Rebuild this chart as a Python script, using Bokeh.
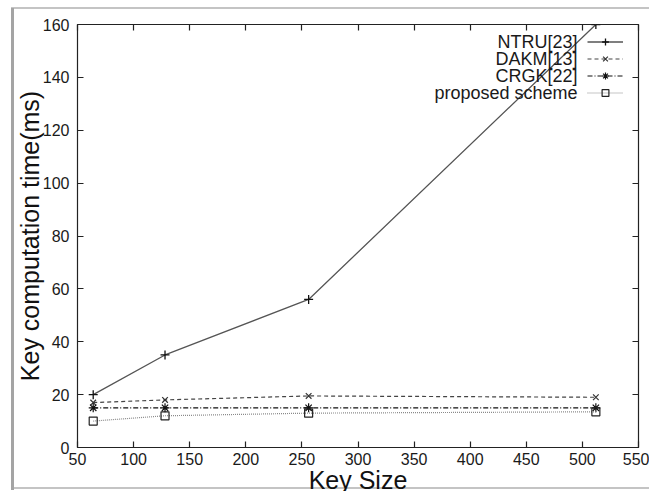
from bokeh.plotting import figure
from bokeh.models import Label, Legend, LegendItem, LinearAxis, FixedTicker, Range1d, Title
from bokeh.core.properties import value
from bokeh.embed import file_html
from bokeh.resources import INLINE

# ---- data ----
key_sizes = [64, 128, 256, 512]
ntru = [20, 35, 56, 160]
dakm = [17, 18, 19.5, 19]
crgk = [15, 15, 15, 15]
proposed = [10, 12, 13, 13.5]
series_names = ["NTRU[23]", "DAKM[13]", "CRGK[22]", "proposed scheme"]
x_ticks = [50, 100, 150, 200, 250, 300, 350, 400, 450, 500, 550]
y_ticks = [0, 20, 40, 60, 80, 100, 120, 140, 160]
x_title = "Key Size"
y_title = "Key computation time(ms)"

FONT = "Liberation Sans"

p = figure(width=649, height=491, output_backend="svg", toolbar_location=None,
           x_range=Range1d(50, 550), y_range=Range1d(0, 160),
           min_border_left=77, min_border_right=11, min_border_top=24, min_border_bottom=44,
           border_fill_color=None, background_fill_color="white")
p.grid.visible = False
p.outline_line_color = "#222222"
p.outline_line_width = 1.2

# page frame seen in the reference (grey bar at left, thin grey rules at top and bottom)
p.styles = {
    "background-image": "linear-gradient(#a4a4a4,#a4a4a4), linear-gradient(#c4c4c4,#c4c4c4), linear-gradient(#c4c4c4,#c4c4c4)",
    "background-size": "3px 482px, 100% 2px, 100% 2px",
    "background-position": "11px 8px, 11px 7px, 11px 487px",
    "background-repeat": "no-repeat",
}

def style_axis(ax, ticks, show_labels=True):
    ax.ticker = FixedTicker(ticks=ticks)
    ax.axis_line_color = None
    ax.major_tick_in = 6
    ax.major_tick_out = 0
    ax.major_tick_line_color = "#222222"
    ax.major_tick_line_width = 1.2
    ax.minor_tick_line_color = None
    ax.major_label_text_font = FONT
    if show_labels:
        ax.major_label_text_font_size = "16px"
        ax.major_label_text_color = "#1a1a1a"
    else:
        ax.major_label_text_font_size = "1px"
        ax.major_label_text_color = None
        ax.major_label_standoff = 0

style_axis(p.xaxis[0], x_ticks)
style_axis(p.yaxis[0], y_ticks)
p.xaxis[0].major_label_standoff = 5
p.yaxis[0].major_label_standoff = 8

p.yaxis[0].axis_label = y_title
p.yaxis[0].axis_label_text_font = FONT
p.yaxis[0].axis_label_text_font_size = "25px"
p.yaxis[0].axis_label_text_font_style = "normal"
p.yaxis[0].axis_label_text_color = "#111111"
p.yaxis[0].axis_label_standoff = -4

# x-axis title as a bottom title so it can sit a little lower, as in the reference
p.add_layout(Title(text=x_title, align="center", text_font=FONT, text_font_size="25px",
                   text_font_style="normal", text_color="#111111", standoff=-8,
                   vertical_align="bottom"), "below")

top_ax = LinearAxis()
style_axis(top_ax, x_ticks, show_labels=False)
p.add_layout(top_ax, "above")
right_ax = LinearAxis()
style_axis(right_ax, y_ticks, show_labels=False)
p.add_layout(right_ax, "right")

# ---- series ----
r1l = p.line(key_sizes, ntru, line_color="#555555", line_width=1.3)
r1m = p.scatter(key_sizes, ntru, marker="cross", size=9, line_color="#111111", line_width=1.3)
r2l = p.line(key_sizes, dakm, line_color="#444444", line_width=1.2, line_dash="4 3")
r2m = p.scatter(key_sizes, dakm, marker="x", size=8, line_color="#333333", line_width=1.2)
r3l = p.line(key_sizes, crgk, line_color="#111111", line_width=1.2, line_dash="5 2 1 2")
r3m = p.scatter(key_sizes, crgk, marker="asterisk", size=9, line_color="#111111", line_width=1.2)
r4l = p.line(key_sizes, proposed, line_color="#8a8a8a", line_width=1.2, line_dash="1 1")
r4m = p.scatter(key_sizes, proposed, marker="square", size=8, fill_color=None,
                line_color="#222222", line_width=1.2)

renderers = [(r1l, r1m), (r2l, r2m), (r3l, r3m), (r4l, r4m)]

# ---- legend (gnuplot style: text right-aligned, sample to the right) ----
row_h = 17
legend_top = 414.5  # px above frame bottom
legend = Legend(items=[LegendItem(label=value(""), renderers=list(rs)) for rs in renderers],
                location=(510, legend_top - row_h * len(renderers)),
                glyph_width=36, glyph_height=row_h, label_height=row_h, label_width=0,
                label_standoff=0, spacing=0, padding=0, margin=0,
                border_line_color=None, background_fill_alpha=0,
                label_text_font_size="1px", label_text_color=None)
p.add_layout(legend, "center")

for i, name in enumerate(series_names):
    p.add_layout(Label(x=500, y=legend_top - row_h * (i + 0.5), x_units="screen", y_units="screen",
                       text=name, text_align="right", text_baseline="middle",
                       text_font=FONT, text_font_size="18px", text_color="#1a1a1a"))

open("out.html", "w").write(file_html(p, INLINE))
